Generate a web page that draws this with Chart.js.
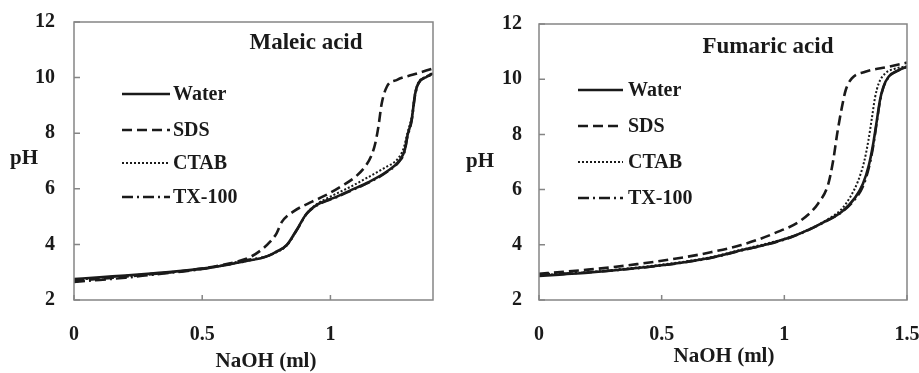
<!DOCTYPE html>
<html>
<head>
<meta charset="utf-8">
<script src="https://cdn.jsdelivr.net/npm/chart.js@4.4.0/dist/chart.umd.min.js"></script>
<style>
  body { margin: 0; background: #fff; }
  .wrap { display: flex; width: 919px; height: 373px; }
  canvas { display: block; }
</style>
</head>
<body>
<div class="wrap">
  <canvas id="maleicChart" width="460" height="373"></canvas>
  <canvas id="fumaricChart" width="459" height="373"></canvas>
</div>
<script>
// series names
const seriesNames = ['Water', 'SDS', 'CTAB', 'TX-100'];

// Maleic acid titration (NaOH ml -> pH)
const maleicWaterX = [0, 0.1, 0.2, 0.3, 0.4, 0.5, 0.6, 0.66, 0.75, 0.79, 0.83, 0.868, 0.908, 0.947, 1.025, 1.08, 1.14, 1.22, 1.27, 1.29, 1.30, 1.317, 1.33, 1.343, 1.376, 1.40];
const maleicWaterY = [2.75, 2.82, 2.88, 2.95, 3.03, 3.13, 3.27, 3.38, 3.56, 3.74, 3.98, 4.52, 5.12, 5.42, 5.72, 5.95, 6.2, 6.62, 7.03, 7.4, 7.9, 8.5, 9.4, 9.8, 10.03, 10.15];
const maleicSdsX = [0, 0.1, 0.2, 0.3, 0.4, 0.5, 0.6, 0.65, 0.69, 0.73, 0.765, 0.79, 0.81, 0.855, 0.92, 0.98, 1.04, 1.1, 1.14, 1.16, 1.175, 1.187, 1.2, 1.22, 1.26, 1.32, 1.4];
const maleicSdsY = [2.68, 2.76, 2.84, 2.93, 3.02, 3.13, 3.3, 3.42, 3.56, 3.8, 4.1, 4.4, 4.8, 5.18, 5.5, 5.76, 6.08, 6.45, 6.86, 7.2, 7.64, 8.23, 9.07, 9.67, 9.92, 10.1, 10.33];
const maleicCtabX = [0, 0.1, 0.2, 0.3, 0.4, 0.5, 0.6, 0.66, 0.75, 0.79, 0.83, 0.868, 0.908, 0.947, 1.0, 1.08, 1.14, 1.22, 1.26, 1.285, 1.30, 1.317, 1.33, 1.343, 1.376, 1.40];
const maleicCtabY = [2.72, 2.8, 2.87, 2.94, 3.02, 3.12, 3.27, 3.38, 3.56, 3.72, 3.96, 4.5, 5.12, 5.45, 5.72, 6.08, 6.38, 6.8, 7.05, 7.45, 8.0, 8.6, 9.45, 9.82, 10.05, 10.18];
const maleicTxX = [0, 0.1, 0.2, 0.3, 0.4, 0.5, 0.6, 0.66, 0.75, 0.79, 0.83, 0.868, 0.908, 0.947, 1.025, 1.08, 1.14, 1.22, 1.27, 1.29, 1.30, 1.317, 1.33, 1.343, 1.376, 1.40];
const maleicTxY = [2.65, 2.72, 2.8, 2.9, 3.0, 3.11, 3.28, 3.42, 3.57, 3.74, 3.98, 4.5, 5.1, 5.4, 5.7, 5.93, 6.18, 6.6, 7.0, 7.35, 7.85, 8.45, 9.35, 9.78, 10.02, 10.14];

// Fumaric acid titration
const fumaricWaterX = [0, 0.1, 0.2, 0.3, 0.4, 0.5, 0.6, 0.7, 0.824, 0.93, 1.03, 1.1, 1.165, 1.234, 1.288, 1.32, 1.345, 1.363, 1.377, 1.39, 1.404, 1.425, 1.466, 1.5];
const fumaricWaterY = [2.87, 2.93, 2.99, 3.07, 3.16, 3.26, 3.38, 3.53, 3.8, 4.02, 4.29, 4.55, 4.84, 5.2, 5.7, 6.2, 6.9, 7.7, 8.5, 9.25, 9.73, 10.09, 10.33, 10.45];
const fumaricSdsX = [0, 0.1, 0.2, 0.3, 0.4, 0.5, 0.6, 0.7, 0.824, 0.96, 1.07, 1.138, 1.179, 1.2, 1.215, 1.235, 1.25, 1.275, 1.33, 1.425, 1.5];
const fumaricSdsY = [2.95, 3.02, 3.1, 3.19, 3.3, 3.42, 3.56, 3.73, 3.99, 4.42, 4.9, 5.5, 6.2, 7.1, 8.0, 9.0, 9.6, 10.03, 10.27, 10.45, 10.6];
const fumaricCtabX = [0, 0.1, 0.2, 0.3, 0.4, 0.5, 0.6, 0.7, 0.824, 0.93, 1.03, 1.1, 1.165, 1.234, 1.27, 1.3, 1.325, 1.343, 1.357, 1.37, 1.385, 1.41, 1.45, 1.5];
const fumaricCtabY = [2.9, 2.95, 3.01, 3.09, 3.18, 3.28, 3.4, 3.55, 3.82, 4.05, 4.3, 4.56, 4.86, 5.3, 5.75, 6.3, 7.0, 7.8, 8.6, 9.35, 9.85, 10.2, 10.38, 10.47];
const fumaricTxX = [0, 0.1, 0.2, 0.3, 0.4, 0.5, 0.6, 0.7, 0.824, 0.93, 1.03, 1.1, 1.165, 1.234, 1.288, 1.32, 1.345, 1.363, 1.377, 1.39, 1.404, 1.425, 1.466, 1.5];
const fumaricTxY = [2.93, 2.96, 3.0, 3.07, 3.15, 3.25, 3.37, 3.52, 3.79, 4.01, 4.28, 4.54, 4.83, 5.18, 5.65, 6.1, 6.8, 7.6, 8.45, 9.2, 9.7, 10.07, 10.32, 10.45];

const FONT = "'Liberation Serif', 'Times New Roman', serif";
const INK = '#1a1a1a';
const dashes = [[], [10, 5], [2, 2], [11, 4, 2, 4]];
const widths = [2.6, 2.6, 2, 2.4];

function toPoints(xs, ys) {
  return xs.map((x, i) => ({ x: x, y: ys[i] }));
}

function makeDatasets(sets) {
  return sets.map((s, i) => ({
    label: seriesNames[i],
    data: toPoints(s[0], s[1]),
    borderColor: INK,
    borderWidth: widths[i],
    borderDash: dashes[i],
    pointRadius: 0,
    showLine: true,
    fill: false,
    cubicInterpolationMode: 'monotone'
  }));
}

// frame, inward ticks, inside legend, titles
const decorPlugin = {
  id: 'decor',
  afterDraw(chart, args, opts) {
    const ctx = chart.ctx;
    const a = chart.chartArea;
    const xs = chart.scales.x, ys = chart.scales.y;
    ctx.save();
    ctx.strokeStyle = '#858585';
    ctx.lineWidth = 1.5;
    ctx.strokeRect(a.left, a.top, a.right - a.left, a.bottom - a.top);
    ctx.beginPath();
    xs.ticks.forEach(t => {
      const px = xs.getPixelForValue(t.value);
      ctx.moveTo(px, a.bottom);
      ctx.lineTo(px, a.bottom - 5);
    });
    ys.ticks.forEach(t => {
      const py = ys.getPixelForValue(t.value);
      ctx.moveTo(a.left, py);
      ctx.lineTo(a.left + 6, py);
    });
    ctx.stroke();

    ctx.fillStyle = INK;
    ctx.textBaseline = 'middle';
    ctx.textAlign = 'center';
    ctx.font = 'bold 23px ' + FONT;
    ctx.fillText(opts.title, opts.titleX, opts.titleY);
    ctx.font = 'bold 21px ' + FONT;
    ctx.fillText('NaOH (ml)', opts.xTitleX, opts.xTitleY);
    ctx.fillText('pH', opts.yTitleX, opts.yTitleY);

    // legend
    ctx.textAlign = 'left';
    ctx.font = 'bold 20px ' + FONT;
    chart.data.datasets.forEach((ds, i) => {
      const y = opts.legendY[i];
      ctx.beginPath();
      ctx.strokeStyle = INK;
      ctx.lineWidth = ds.borderWidth;
      ctx.setLineDash(ds.borderDash);
      ctx.moveTo(opts.legendX0, y);
      ctx.lineTo(opts.legendX1, y);
      ctx.stroke();
      ctx.setLineDash([]);
      ctx.fillText(ds.label, opts.legendTextX, y + 1);
    });
    ctx.restore();
  }
};

function makeChart(id, sets, xMax, area, decor) {
  const ctx = document.getElementById(id).getContext('2d');
  return new Chart(ctx, {
    type: 'scatter',
    data: { datasets: makeDatasets(sets) },
    plugins: [decorPlugin],
    options: {
      responsive: false,
      animation: false,
      layout: { padding: { top: area.top, right: area.right, left: 0, bottom: 0 } },
      plugins: {
        legend: { display: false },
        tooltip: { enabled: false },
        decor: decor
      },
      scales: {
        x: {
          type: 'linear',
          min: 0,
          max: xMax,
          afterBuildTicks: s => { s.ticks = s.ticks.filter(t => Math.abs(t.value * 2 - Math.round(t.value * 2)) < 1e-6); },
          afterFit: s => { s.height = area.xHeight; s.paddingLeft = 0; s.paddingRight = 0; },
          ticks: { stepSize: 0.5, color: INK, padding: area.xPad, maxRotation: 0,
                   callback: v => String(v),
                   font: { family: FONT, size: 20, weight: 'bold' } },
          grid: { drawOnChartArea: false, drawTicks: false },
          border: { display: false }
        },
        y: {
          min: 2,
          max: 12,
          afterFit: s => { s.width = area.yWidth; s.paddingTop = 0; s.paddingBottom = 0; },
          ticks: { stepSize: 2, color: INK, padding: area.yPad,
                   font: { family: FONT, size: 20, weight: 'bold' } },
          grid: { drawOnChartArea: false, drawTicks: false },
          border: { display: false }
        }
      }
    }
  });
}

makeChart('maleicChart',
  [[maleicWaterX, maleicWaterY], [maleicSdsX, maleicSdsY], [maleicCtabX, maleicCtabY], [maleicTxX, maleicTxY]],
  1.4,
  { top: 22, right: 27, xHeight: 73, yWidth: 74, xPad: 23, yPad: 19 },
  { title: 'Maleic acid', titleX: 306, titleY: 43, xTitleX: 266, xTitleY: 362, yTitleX: 24, yTitleY: 159,
    legendX0: 122, legendX1: 170, legendTextX: 173, legendY: [94, 130, 163, 197] });

makeChart('fumaricChart',
  [[fumaricWaterX, fumaricWaterY], [fumaricSdsX, fumaricSdsY], [fumaricCtabX, fumaricCtabY], [fumaricTxX, fumaricTxY]],
  1.5,
  { top: 24, right: 12, xHeight: 73, yWidth: 79, xPad: 23, yPad: 17 },
  { title: 'Fumaric acid', titleX: 308, titleY: 47, xTitleX: 264, xTitleY: 357, yTitleX: 20, yTitleY: 162,
    legendX0: 118, legendX1: 163, legendTextX: 168, legendY: [90, 126, 162, 198] });
</script>
</body>
</html>
